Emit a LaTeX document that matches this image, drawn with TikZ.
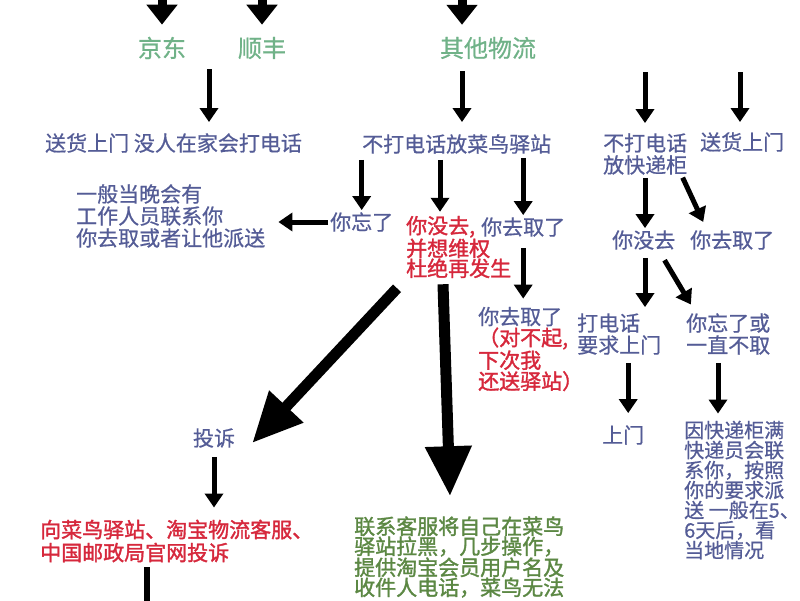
\documentclass[tikz,border=0pt]{standalone}
\usepackage{fontspec}
\newfontfamily\cjk[FakeBold=0.7]{Noto Sans CJK SC}
\newfontfamily\cjkb[FakeBold=1.6]{Noto Sans CJK SC}
\usetikzlibrary{arrows.meta,calc}
\begin{document}
\begin{tikzpicture}[x=1pt,y=-1pt,
  lbl/.style={inner sep=0pt, anchor=west, align=left, text=txtblue, font=\cjk\fontsize{21}{22}\selectfont},
  brand/.style={lbl, anchor=center, text=brandgreen, font=\cjk\fontsize{24}{26}\selectfont},
  warn/.style={lbl, text=warnred, font=\cjkb\fontsize{21}{20}\selectfont},
  arr/.style={-{Triangle[width=18pt,length=14pt]}, line width=5pt},
  toparr/.style={-{Triangle[width=30pt,length=20pt]}, line width=9pt},
  heavy/.style={-{Triangle[width=44pt,length=50pt]}, line width=11pt},
  gaps/.style 2 args={shorten <=#1, shorten >=#2}]
\definecolor{txtblue}{RGB}{84,92,150}
\definecolor{brandgreen}{RGB}{112,178,136}
\definecolor{warnred}{RGB}{214,40,60}
\definecolor{blackgreen}{RGB}{92,136,68}
\useasboundingbox (0,0) rectangle (800,600);
\node[brand] (jd) at (162,48) {京东};
\node[brand] (sf) at (262,48) {顺丰};
\node[brand] (other) at (488,48) {其他物流};
\node[lbl] (home) at (45,143) {送货上门 没人在家会打电话};
\node[lbl] (cainiao) at (362,144) {不打电话放菜鸟驿站};
\node[lbl] (locker) at (603,154) {不打电话\\放快递柜};
\node[lbl] (door) at (700,142) {送货上门};
\node[lbl] (forgot) at (330,222) {你忘了};
\node[lbl] (advice) at (76,216) {一般当晚会有\\工作人员联系你\\你去取或者让他派送};
\node[warn] (notgo) at (406,247) {你没去,\\并想维权\\杜绝再发生};
\node[lbl] (took) at (481,227) {你去取了};
\node[warn, font=\cjkb\fontsize{21}{21}\selectfont] (took2) at (478,349) {{\cjk\color{txtblue}你去取了}\\（对不起,\\下次我\\还送驿站）};
\node[lbl] (lnot) at (612,240) {你没去};
\node[lbl] (ltook) at (690,240) {你去取了};
\node[lbl] (call) at (577,334) {打电话\\要求上门};
\node[lbl] (lforgot) at (686,334) {你忘了或\\一直不取};
\node[lbl] (visit) at (602,435) {上门};
\node[lbl, font=\cjk\fontsize{20}{20}\selectfont] (full) at (684,490) {因快递柜满\\快递员会联\\系你，按照\\你的要求派\\送 一般在5、\\6天后，看\\当地情况};
\node[lbl, anchor=center] (complain) at (214,438) {投诉};
\node[warn, font=\cjkb\fontsize{21}{23}\selectfont] (where) at (40,541) {向菜鸟驿站、淘宝物流客服、\\中国邮政局官网投诉};
\node[lbl, text=blackgreen, font=\cjkb\fontsize{21}{20}\selectfont] (black) at (354,557) {联系客服将自己在菜鸟\\驿站拉黑，几步操作，\\提供淘宝会员用户名及\\收件人电话，菜鸟无法};
\foreach \n/\t in {162/jd,262/sf,462/other} {
  \coordinate (in-\t) at (\n,-15);
  \draw[toparr, shorten >=12pt] (in-\t) -- (in-\t |- \t.north);
}
\foreach \n/\t in {645/locker,740/door} {
  \coordinate (in-\t) at (\n,72);
  \draw[arr, shorten >=10pt] (in-\t) -- (in-\t |- \t.north);
}
\coordinate (jdsf) at ($(jd.south)!.5!(sf.south)+(-3,0)$);
\draw[arr, gaps={10pt}{11pt}] (jdsf) -- (jdsf |- home.north);
\draw[arr, gaps={12pt}{12pt}] (other.south -| in-other) -- (cainiao.north -| in-other);
\draw[arr, gaps={6pt}{2pt}] (cainiao.south -| forgot) -- (forgot.north);
\draw[arr, gaps={6pt}{4pt}] ($(cainiao.south -| notgo.west)+(34,0)$) -- ($(notgo.north west)+(34,0)$);
\draw[arr, gaps={4pt}{2pt}] (cainiao.south -| took) -- (took.north);
\draw[arr, gaps={2pt}{13pt}] (forgot.west) -- (forgot.west -| advice.east);
\draw[arr, gaps={11pt}{8pt}] (took.south) -- (took.south |- took2.north);
\draw[arr, gaps={3pt}{2pt}] (locker.south -| in-locker) -- (lnot.north -| in-locker);
\draw[arr, gaps={3pt}{9pt}] ($(locker.south east)+(-6,0)$) -- ($(ltook.north west)+(17,0)$);
\draw[arr, gaps={8pt}{6pt}] (lnot.south -| in-locker) -- (call.north -| in-locker);
\draw[arr, gaps={12pt}{10pt}] ($(lnot.south east)+(-17,0)$) -- ($(lforgot.north west)+(10,0)$);
\draw[arr, gaps={8pt}{12pt}] ($(call.south -| visit)+(5,0)$) -- ($(visit.north)+(5,0)$);
\coordinate (k) at ($(lforgot.south west)+(32,0)$);
\draw[arr, gaps={8pt}{7pt}] (k) -- (k |- full.north);
\draw[heavy] ($(notgo.south west)+(-9,10)$) -- ($(complain.east)+(17,5)$);
\draw[heavy] ($(notgo.south west)+(37,6)$) -- ($(black.north west)+(96,-20)$);
\draw[arr, gaps={9pt}{12pt}] (complain.south) -- (complain.south |- where.north);
\coordinate (out) at (147,610);
\draw[line width=6pt, shorten <=5pt] (where.south -| out) -- (out);
\end{tikzpicture}
\end{document}
